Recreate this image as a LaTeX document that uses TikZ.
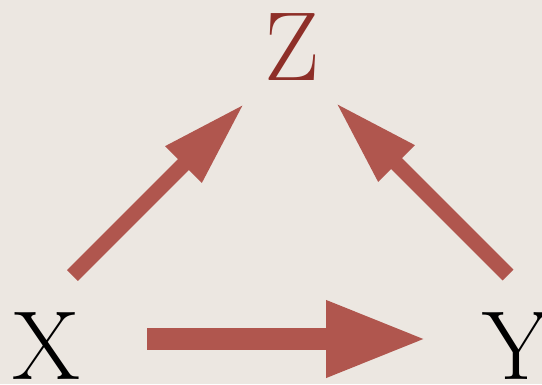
\documentclass[tikz,border=0pt]{standalone}
\usetikzlibrary{arrows.meta}
\definecolor{bg}{HTML}{ECE7E1}
\definecolor{arr}{HTML}{B0564E}
\definecolor{zred}{HTML}{8E2F28}
\begin{document}
\begin{tikzpicture}[x=1pt,y=-1pt,
  bigtxt/.style={inner sep=0pt,anchor=base,font=\fontsize{98}{98}\selectfont},
  ztxt/.style={bigtxt,text=zred},
  harrow/.style={draw=arr,line width=22pt,-{Triangle[length=101pt,width=71pt]}},
  darrow/.style={draw=arr,line width=15.5pt,-{Triangle[length=87pt,width=47pt]}}]
\fill[bg] (0,0) rectangle (542,384);
\useasboundingbox (0,0) rectangle (542,384);
\node[bigtxt] (X) at (46,379) {X};
\node[bigtxt] (Y) at (516,379) {Y};
\node[ztxt] (Z) at (292,80) {Z};
\coordinate (xr) at (147,339);
\coordinate (yl) at (427,339);
\coordinate (xt) at (72.5,275.5);
\coordinate (zl) at (245,103);
\coordinate (yt) at (508,275);
\coordinate (zr) at (335,102);
\draw[harrow] (xr) -- (yl);
\draw[darrow] (xt) -- (zl);
\draw[darrow] (yt) -- (zr);
\end{tikzpicture}
\end{document}
